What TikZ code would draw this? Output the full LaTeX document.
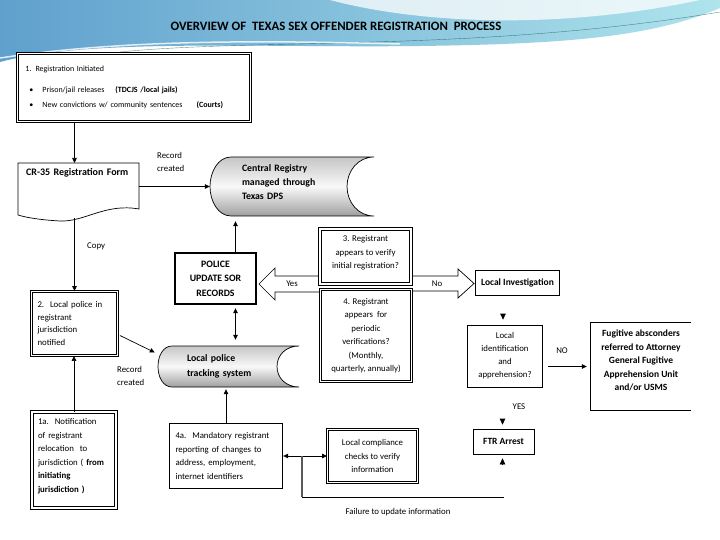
\documentclass[tikz,border=0pt]{standalone}
\usepackage{fontspec}
\setmainfont{Carlito}
\usetikzlibrary{arrows.meta,calc}

\begin{document}
\begin{tikzpicture}[x=1pt, y=-1pt,
    font=\fontsize{8.8}{13.5}\selectfont,
    bold/.style={font=\bfseries\fontsize{9.5}{13.5}\selectfont},
    box/.style={draw, fill=white, line width=0.7pt, align=center},
    dbox/.style={box, line width=0.9pt, double, double distance=1.5pt},
    lbl/.style={inner sep=1pt, align=left},
    arr/.style={-{Triangle[length=5pt,width=4.5pt]}, line width=0.7pt},
    darr/.style={{Triangle[length=5pt,width=4.5pt]}-{Triangle[length=5pt,width=4.5pt]}, line width=0.7pt},
    pointer/.style={-{Triangle[length=6pt,width=5.5pt]}, line width=0.7pt},
    drum/.style={draw, line width=0.7pt, top color=gray!45, bottom color=gray!75, middle color=gray!5},
    blockarrow/.style={draw, fill=white, line width=0.7pt, line join=miter}]
  \useasboundingbox (0,0) rectangle (720,540);
  \fill[white] (0,0) rectangle (720,540);
  % Header band
  \shade[left color={rgb,255:red,95;green,160;blue,205}, right color={rgb,255:red,175;green,228;blue,236}]
    (0,0) -- (720,0) -- (720,8) .. controls (650,38) and (560,44) .. (420,46)
    .. controls (260,48) and (90,38) .. (0,62) -- cycle;
  \fill[white, opacity=0.75] (330,0) .. controls (420,24) and (560,30) .. (700,0) -- cycle;
  \draw[teal!60!black, opacity=0.6] (120,52) .. controls (260,38) and (480,52) .. (720,12);
  \draw[white, line width=1.5pt, opacity=0.8] (0,58) .. controls (120,40) and (250,40) .. (400,44);
  \node[font=\bfseries\fontsize{12.8}{14}\selectfont] (title) at (336,26)
    {OVERVIEW OF\ \ TEXAS SEX OFFENDER REGISTRATION\ \ PROCESS};

  % Shapes: registration form, data stores, Yes/No arrows
  \draw[line width=0.7pt, fill=white] (18,163) -- (139,163) -- (139,209)
    .. controls (105,203) and (85,222) .. (60,221) .. controls (42,220) and (28,218) .. (18,215) -- cycle;
  \draw[drum] (231,157) .. controls (218,157) and (210,172) .. (210,186.5)
    .. controls (210,201) and (218,216) .. (231,216) -- (374,216)
    .. controls (358,216) and (347,202) .. (347,186.5) .. controls (347,171) and (358,157) .. (374,157) -- cycle;
  \draw[drum] (172,346) .. controls (163,346) and (158,356) .. (158,366.5)
    .. controls (158,377) and (163,387) .. (172,387) -- (299,387)
    .. controls (286,387) and (277,378) .. (277,366.5) .. controls (277,355) and (286,346) .. (299,346) -- cycle;
  \draw[blockarrow] (319,276) -- (275,276) -- (275,268) -- (259,284) -- (275,300) -- (275,292) -- (319,292);
  \draw[blockarrow] (412,276) -- (458,276) -- (458,269) -- (474,283.5) -- (458,298) -- (458,291) -- (412,291);

  % Boxes
  \node[dbox, anchor=north west, minimum width=233, minimum height=68, text width=217,
        inner xsep=8pt, align=left, font=\fontsize{8}{12}\selectfont] (reg) at (17,53)
    {1. Registration Initiated\\[9pt]
     \hspace*{4pt}\textbullet\hspace{9pt}Prison/jail releases\hspace{11pt}\textbf{(TDCJS /local jails)}\\[3pt]
     \hspace*{4pt}\textbullet\hspace{9pt}New convictions w/ community sentences\hspace{14pt}\textbf{(Courts)}};
  \node[anchor=north west, text width=105, inner xsep=8pt, inner ysep=5pt, text height=7pt,
        text depth=34pt, align=left, font=\bfseries\fontsize{10}{13.5}\selectfont] (cr) at (18,163) {CR-35 Registration Form};
  \node[text width=100, inner xsep=32pt, minimum height=59, align=left, font=\bfseries\fontsize{9.8}{13.5}\selectfont] (creg) at (292,186.5)
    {Central Registry\\[0.5pt]managed through\\[0.5pt]Texas DPS\\[-4.5pt]\mbox{}};
  \node[box, line width=2.4pt, minimum width=81, minimum height=51, font=\bfseries\fontsize{9.8}{13.5}\selectfont] (police) at (215.5,278.5)
    {POLICE\\[1pt]UPDATE SOR\\[1pt]RECORDS};
  \node[dbox, minimum width=91, minimum height=55] (q3) at (365.5,256.5)
    {3. Registrant\\appears to verify\\initial registration?\\[-5pt]\mbox{}};
  \node[dbox, minimum width=91, minimum height=92] (q4) at (366,335.5)
    {4. Registrant\\appears\ \ for\\periodic\\verifications?\\(Monthly,\\quarterly, annually)};
  \node[box, bold, minimum width=84, minimum height=25] (locinv) at (517.5,283) {Local Investigation};
  \node[box, minimum width=75, minimum height=62, font=\fontsize{8.8}{13}\selectfont] (locid) at (505,356)
    {Local\\identification\\and\\apprehension?};
  \node[bold, minimum width=100, minimum height=87, align=center] (fug) at (641,366.5)
    {Fugitive absconders\\referred to Attorney\\General Fugitive\\Apprehension Unit\\and/or USMS\\[-1pt]\mbox{}};
  \draw[line width=0.7pt] (fug.north east) -- (fug.north west) -- (fug.south west) -- (fug.south east);
  \node[box, bold, minimum width=61, minimum height=25] (ftr) at (503.5,441.5) {FTR Arrest};
  \node[dbox, minimum width=86, minimum height=64, text width=74, inner xsep=6pt, align=left,
        font=\fontsize{8.8}{12.7}\selectfont] (notif) at (74.5,323.5)
    {2.\ \ Local police in\\registrant\\jurisdiction\\notified};
  \node[text width=83, inner xsep=29pt, minimum height=41, align=left, font=\bfseries\fontsize{9.8}{13.5}\selectfont] (lpts) at (228.5,366.5)
    {Local police\\[1pt]tracking system};
  \node[dbox, minimum width=84, minimum height=96, text width=72, inner xsep=6pt, align=left] (relo) at (74,460)
    {1a.\ \ Notification\\of registrant\\relocation\ \ to\\jurisdiction ( \textbf{from}\\\textbf{initiating}\\\textbf{jurisdiction )}\\[-4pt]\mbox{}};
  \node[box, line width=1.3pt, minimum width=113, minimum height=65, text width=101, inner xsep=6pt, align=left] (mand) at (226,456)
    {4a.\ \ Mandatory registrant\\reporting of changes to\\address, employment,\\internet identifiers};
  \node[dbox, minimum width=90, minimum height=53] (comp) at (372.5,456)
    {Local compliance\\checks to verify\\information};

  % Labels
  \node[lbl, anchor=west] (rec1) at (156,162) {Record\\created};
  \node[lbl, anchor=west] (copy) at (86,246) {Copy};
  \node[lbl, anchor=west] (rec2) at (116,376) {Record\\created};
  \node[lbl] (yes) at (292,284) {Yes};
  \node[lbl] (no) at (437,284) {No};
  \node[lbl] (nolbl) at (562,351) {NO};
  \node[lbl] (yeslbl) at (519,407) {YES};
  \node[lbl] (fail) at (398,512) {Failure to update information};

  % Connectors
  \draw[arr] (notif.north |- reg.south) -- (notif.north |- cr.north);
  \draw[arr] (cr.east |- creg.west) -- (creg.west);
  \draw[arr] ($(notif.north |- cr.south)+(0,4)$) -- (notif.north);
  \draw[arr, shorten >=5pt] ([xshift=20pt]police.north) -- ([xshift=20pt]police.north |- creg.south);
  \draw[darr, shorten <=3pt, shorten >=6pt] ([xshift=20pt]police.south) -- ([xshift=20pt]police.south |- lpts.north);
  \draw[arr] ($(notif.east)+(2,12)$) -- ($(lpts.west)+(-3,-14)$);
  \draw[arr] (relo.north) -- (relo.north |- notif.south);
  \draw[arr, shorten >=2pt] (mand.north) -- (mand.north |- lpts.south);
  \draw[darr] (mand.east) -- (comp.west);
  \draw[arr, shorten >=4pt] ([xshift=5pt]locid.east |- fug.west) -- (fug.west);
  \draw[pointer] ($(locid.north)+(-2,-11)$) -- ($(locid.north)+(-2,-5)$);
  \draw[pointer] ($(ftr.north)+(-1,-10)$) -- ($(ftr.north)+(-1,-4)$);
  \draw[pointer] ($(ftr.south)+(-1,10)$) -- ($(ftr.south)+(-1,4)$);
  % Failure to update loop
  \coordinate (fb) at ($(mand.east)!0.43!(comp.west)$);
  \draw[gray!70!black, line width=1.3pt] (fb) -- ++(0,41) coordinate (fbc);
  \draw[line width=0.7pt] (fbc) -- (fbc -| ftr.south);
\end{tikzpicture}
\end{document}
